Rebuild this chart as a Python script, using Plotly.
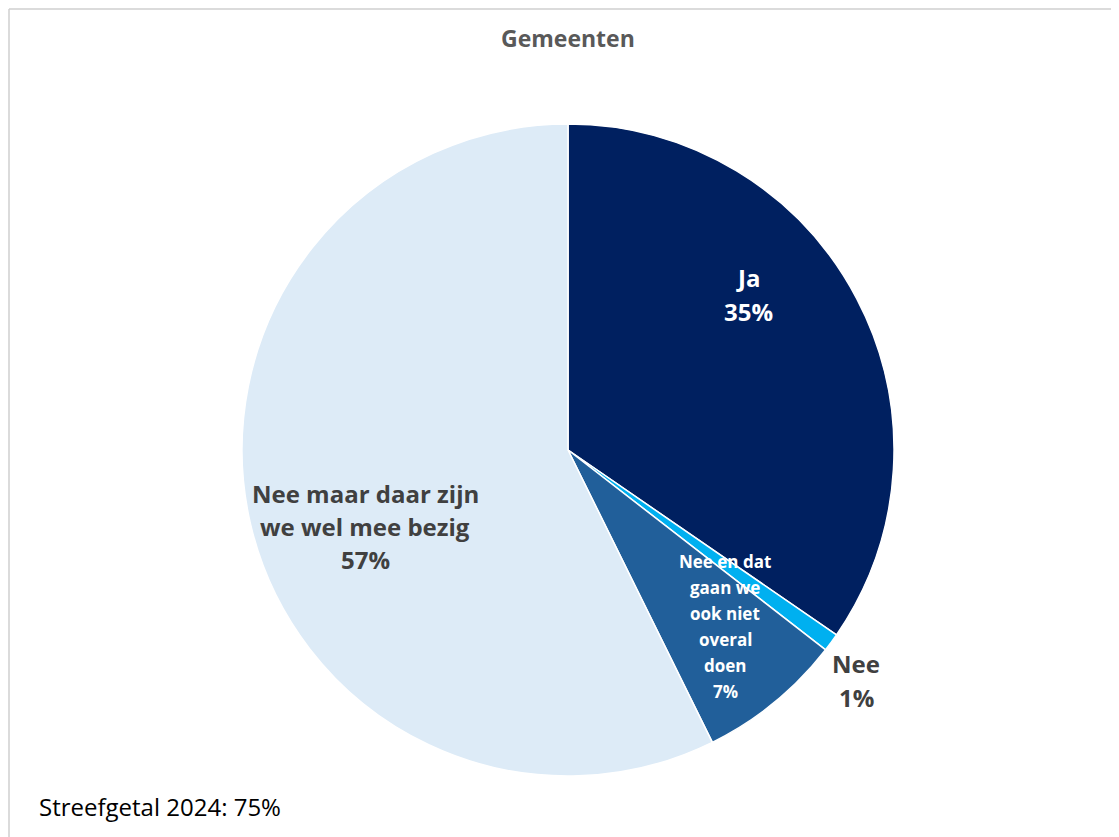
import plotly.graph_objects as go

# Data
categories = ["Ja", "Nee", "Nee en dat gaan we ook niet overal doen", "Nee maar daar zijn we wel mee bezig"]
label_lines = [["Ja"], ["Nee"], ["Nee en dat", "gaan we", "ook niet", "overal", "doen"], ["Nee maar daar zijn", "we wel mee bezig"]]
values = [34.6, 0.9, 7.2, 57.3]
colors = ["#002060", "#00B0F0", "#215F9A", "#DDEBF7"]
title_text = "Gemeenten"
note_text = "Streefgetal 2024: 75%"

W, H = 1119, 837
OFF = 8  # page body margin
FONT = "Open Sans"

def px(x, y):
    return (x - OFF) / W, 1 - (y - OFF) / H

fig = go.Figure()
cx, cy, r = 568, 450, 326
x0, y1 = px(cx - r, cy - r)
x1, y0 = px(cx + r, cy + r)
fig.add_trace(go.Pie(
    labels=categories, values=values, sort=False, direction="clockwise", rotation=0,
    marker=dict(colors=colors, line=dict(color="white", width=1.5)),
    textinfo="none", hoverinfo="label+percent", showlegend=False,
    domain=dict(x=[x0, x1], y=[y0, y1]),
))

total = sum(values)
pct = [f"{round(v / total * 100):d}%" for v in values]

# label anchor centers (pixels) and styles
label_pos = [(748, 294), (856, 680), (725, 626), (365, 526)]
label_col = ["white", "#404040", "white", "#404040"]
label_size = [24, 24, 17, 24]
line_h = [34, 34, 26, 33]

annotations = []
for i in range(len(categories)):
    lines = label_lines[i] + [pct[i]]
    cxp, cyp = label_pos[i]
    n = len(lines)
    for k, t in enumerate(lines):
        yy = cyp + (k - (n - 1) / 2) * line_h[i]
        ax, ay = px(cxp, yy)
        annotations.append(dict(x=ax, y=ay, xref="paper", yref="paper", text=f"<b>{t}</b>",
                                showarrow=False, xanchor="center", yanchor="middle",
                                font=dict(family=FONT, size=label_size[i], color=label_col[i])))

tx, ty = px(568, 38)
annotations.append(dict(x=tx, y=ty, xref="paper", yref="paper", text=f"<b>{title_text}</b>",
                        showarrow=False, xanchor="center", yanchor="middle",
                        font=dict(family=FONT, size=23, color="#595959")))
nx, ny = px(37, 806)
annotations.append(dict(x=nx, y=ny, xref="paper", yref="paper", text=note_text,
                        showarrow=False, xanchor="left", yanchor="middle",
                        font=dict(family=FONT, size=24, color="#000000")))

bx0, by0 = px(9, 9)
bx1, _ = px(1116, 9)
_, by1 = px(9, 845)
shapes = [
    dict(type="line", xref="paper", yref="paper", x0=bx0, y0=by0, x1=bx1, y1=by0,
         line=dict(color="#CFCFCF", width=1.5)),
    dict(type="line", xref="paper", yref="paper", x0=bx0, y0=by0, x1=bx0, y1=by1,
         line=dict(color="#CFCFCF", width=1.5)),
]

fig.update_layout(width=W, height=H, margin=dict(l=0, r=0, t=0, b=0),
                  paper_bgcolor="white", plot_bgcolor="white",
                  annotations=annotations, shapes=shapes, font=dict(family=FONT))
fig.write_html("out.html")
